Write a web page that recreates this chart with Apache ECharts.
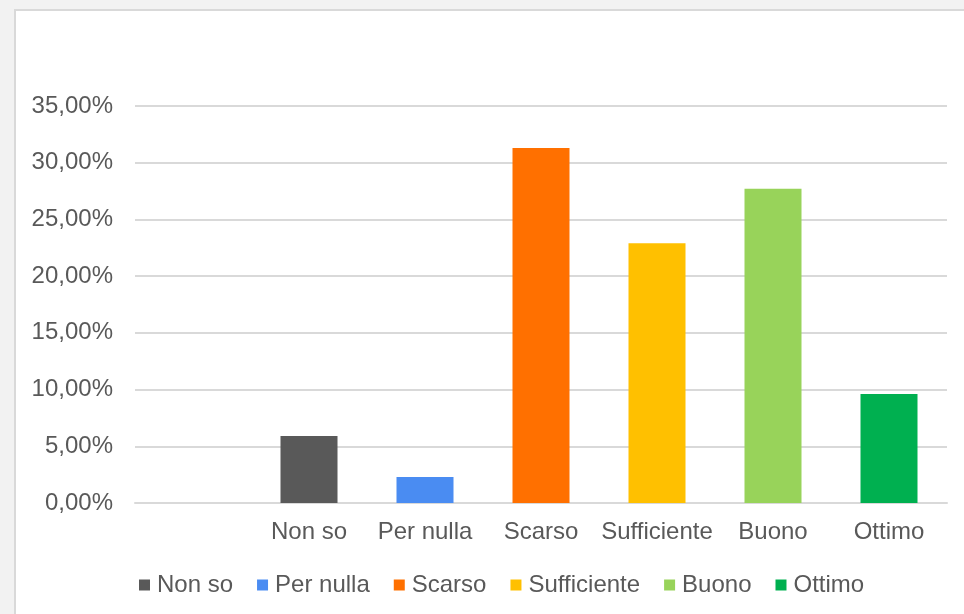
<!DOCTYPE html>
<html><head><meta charset="utf-8">
<script src="https://cdn.jsdelivr.net/npm/echarts@6/dist/echarts.min.js"></script>
<style>html,body{margin:0;padding:0;background:#f2f2f2}#c{width:964px;height:614px}</style>
</head><body><div id="c"></div>
<script>
const categories = ['', 'Non so', 'Per nulla', 'Scarso', 'Sufficiente', 'Buono', 'Ottimo'];
const seriesNames = ['Non so', 'Per nulla', 'Scarso', 'Sufficiente', 'Buono', 'Ottimo'];
const values = [5.9, 2.3, 31.3, 22.9, 27.7, 9.6];
const colors = ['#595959', '#4a8cf2', '#ff7000', '#ffc000', '#98d35a', '#00b050'];
const yTicks = { min: 0, max: 35, interval: 5 };

const chart = echarts.init(document.getElementById('c'), null, { renderer: 'canvas' });
const series = seriesNames.map((name, i) => {
  const data = categories.map(c => (c === name ? values[i] : null));
  return {
    name, type: 'bar', stack: 'all', data, barWidth: 57,
    itemStyle: { color: colors[i] }
  };
});
const font = 'Liberation Sans, Arial';
chart.setOption({
  backgroundColor: '#f2f2f2',
  animation: false,
  graphic: [{ type: 'rect', z: -10, shape: { x: 15, y: 10, width: 1000, height: 700 },
    style: { fill: '#ffffff', stroke: '#d9d9d9', lineWidth: 2 } }],
  grid: { left: 135, right: 17, top: 106, bottom: 111 },
  xAxis: {
    type: 'category', data: categories,
    axisLine: { lineStyle: { color: '#d9d9d9', width: 2 } },
    axisTick: { show: false },
    axisLabel: { color: '#595959', fontSize: 24, fontFamily: font, margin: 17, interval: 0 }
  },
  yAxis: {
    type: 'value', min: yTicks.min, max: yTicks.max, interval: yTicks.interval,
    axisLine: { show: false }, axisTick: { show: false },
    splitLine: { lineStyle: { color: '#d9d9d9', width: 2 } },
    axisLabel: { color: '#595959', fontSize: 24, fontFamily: font, margin: 22,
      formatter: v => v.toFixed(2).replace('.', ',') + '%' }
  },
  legend: {
    data: seriesNames, left: 134, top: 568, icon: 'rect', itemWidth: 11, itemHeight: 11,
    itemGap: 24, textStyle: { color: '#595959', fontSize: 24, fontFamily: font, padding: [0, 0, 0, 2] }
  },
  series
});
</script></body></html>
